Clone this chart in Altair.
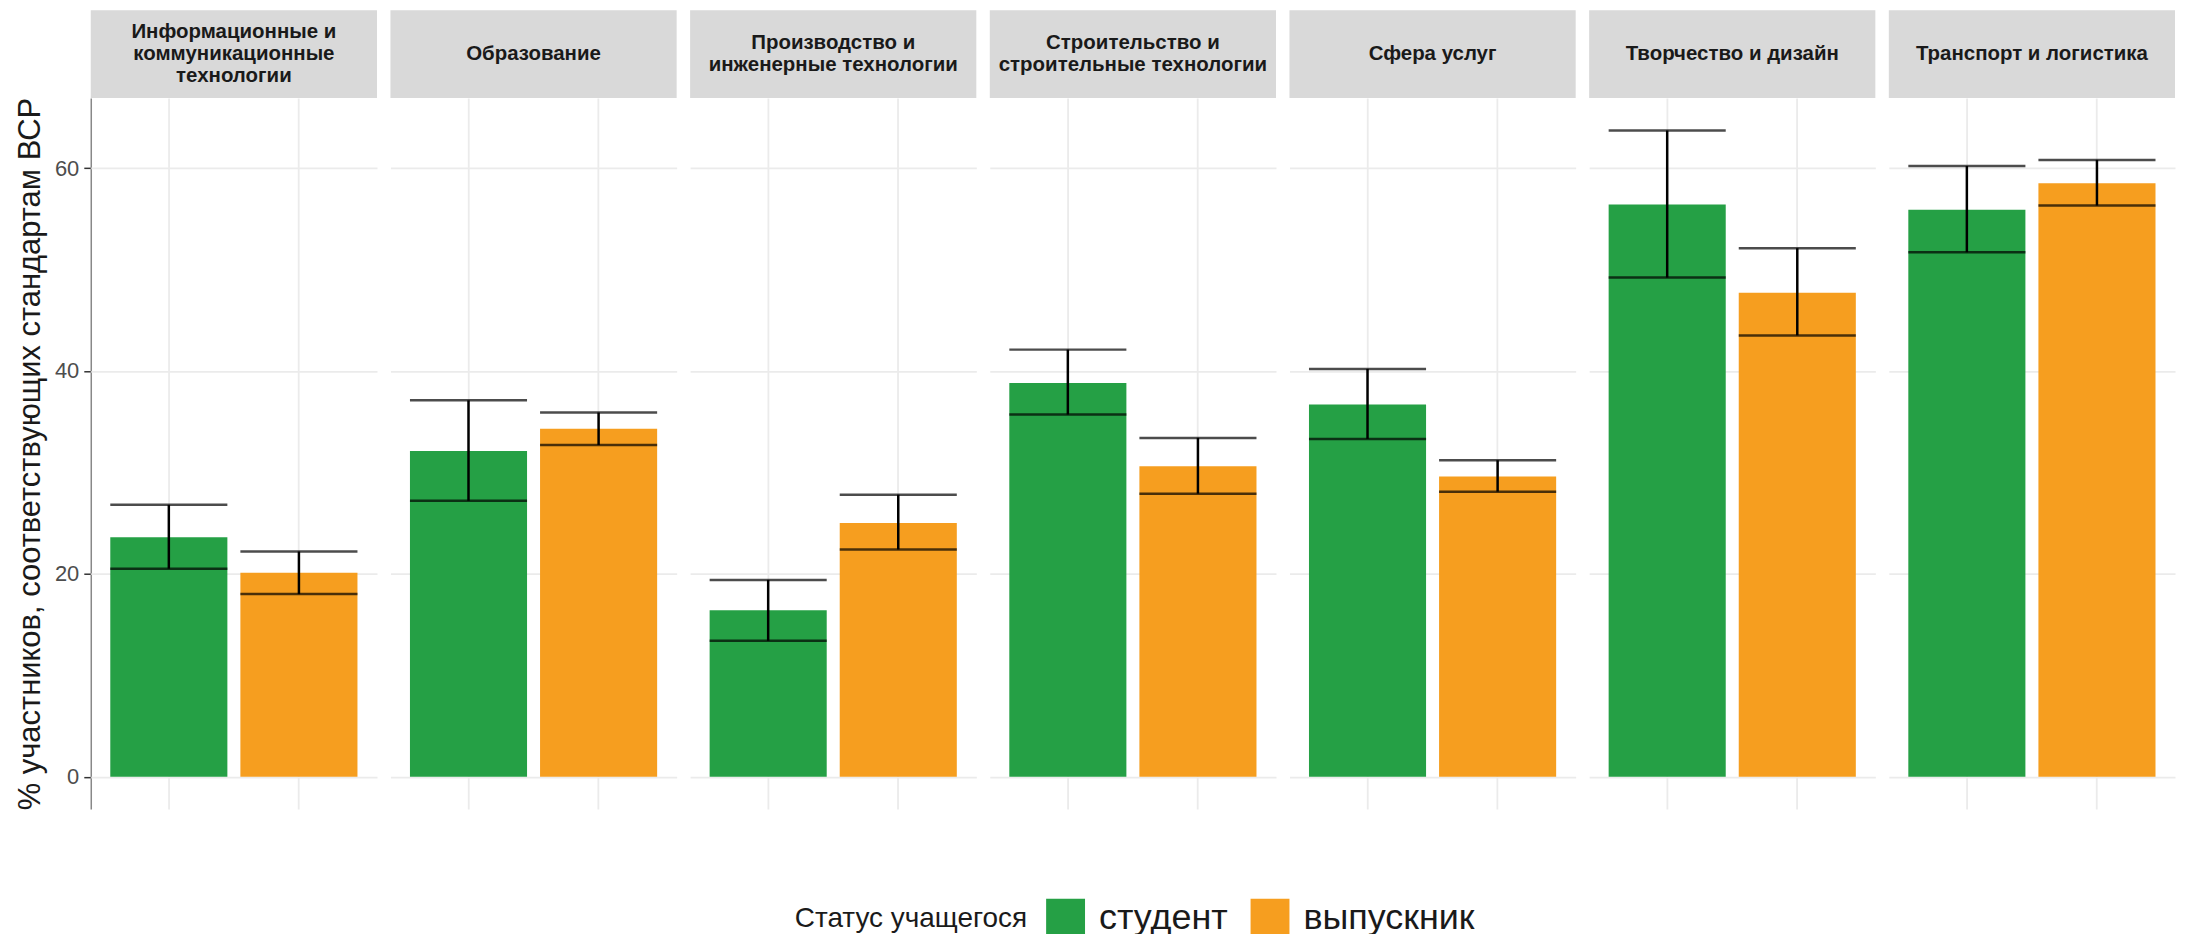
import altair as alt
import pandas as pd

categories = [
    "Информационные и коммуникационные технологии",
    "Образование",
    "Производство и инженерные технологии",
    "Строительство и строительные технологии",
    "Сфера услуг",
    "Творчество и дизайн",
    "Транспорт и логистика",
]
strip_labels = [
    "Информационные и\nкоммуникационные\nтехнологии",
    "Образование",
    "Производство и\nинженерные технологии",
    "Строительство и\nстроительные технологии",
    "Сфера услуг",
    "Творчество и дизайн",
    "Транспорт и логистика",
]
statuses = ["студент", "выпускник"]
colors = ["#25A045", "#F69E1F"]

student_pct = [23.6, 32.1, 16.4, 38.8, 36.7, 56.4, 55.9]
student_lo = [20.5, 27.2, 13.4, 35.7, 33.3, 49.2, 51.7]
student_hi = [26.8, 37.1, 19.4, 42.1, 40.2, 63.7, 60.2]
graduate_pct = [20.1, 34.3, 25.0, 30.6, 29.6, 47.7, 58.5]
graduate_lo = [18.0, 32.7, 22.4, 27.9, 28.1, 43.5, 56.3]
graduate_hi = [22.2, 35.9, 27.8, 33.4, 31.2, 52.1, 60.8]

y_ticks = [0, 20, 40, 60]

rows = []
for i, c in enumerate(categories):
    nl = strip_labels[i].count("\n") + 1
    rows.append(dict(cat=c, label=strip_labels[i], nlines=nl, status=statuses[0],
                     pct=student_pct[i], lo=student_lo[i], hi=student_hi[i]))
    rows.append(dict(cat=c, label=strip_labels[i], nlines=nl, status=statuses[1],
                     pct=graduate_pct[i], lo=graduate_lo[i], hi=graduate_hi[i]))
df = pd.DataFrame(rows)

FONT = "Liberation Sans"
PW = 287
PH = 713
STRIP = 88
LH = 22

x_enc = alt.X(
    "status:N", sort=statuses,
    scale=alt.Scale(paddingInner=0.1, paddingOuter=0.15),
    axis=alt.Axis(labels=False, ticks=False, domain=False, title=None, grid=True,
                  gridColor="#ebebeb", gridWidth=1.8, bandPosition=0.5),
)
y_scale = alt.Scale(domain=[-3.19, 66.9], nice=False, zero=False)
y_axis = alt.Axis(
    values=y_ticks, title="% участников, соответствующих стандартам ВСР",
    titleFontSize=31, titleFont=FONT, titleFontWeight="normal", titleColor="#1a1a1a",
    titlePadding=8, titleLimit=900,
    labelFontSize=22, labelFont=FONT, labelColor="#4d4d4d", labelPadding=5,
    tickColor="#333333", tickSize=7, tickWidth=1.5,
    domainColor="#888888", domainWidth=1.5,
    gridColor="#ebebeb", gridWidth=1.8,
)

base = alt.Chart()

strip_rect = base.transform_filter(alt.datum.status == statuses[0]).mark_rect(
    color="#d9d9d9").encode(
    x=alt.value(0), x2=alt.value(PW), y=alt.value(-STRIP), y2=alt.value(0))

strip_texts = []
for n in (1, 2, 3):
    strip_texts.append(
        base.transform_filter(
            (alt.datum.status == statuses[0]) & (alt.datum.nlines == n)
        ).mark_text(
            font=FONT, fontSize=20.5, fontWeight="bold", color="#1a1a1a", lineBreak="\n",
            lineHeight=LH, align="center", baseline="middle").encode(
            x=alt.value(PW / 2), y=alt.value(-STRIP / 2 - (n - 1) * LH / 2), text="label:N")
    )

bars = base.mark_bar().encode(
    x=x_enc,
    y=alt.Y("pct:Q", scale=y_scale, axis=y_axis),
    y2=alt.datum(0),
    color=alt.Color(
        "status:N", sort=statuses,
        scale=alt.Scale(domain=statuses, range=colors),
        legend=alt.Legend(
            title="Статус учащегося", orient="none", legendX=706, legendY=803,
            direction="horizontal", titleOrient="left",
            titleFontSize=28, titleFont=FONT, titleFontWeight="normal",
            titleColor="#1a1a1a", titlePadding=18, titleLimit=600,
            labelFontSize=36, labelFont=FONT, labelColor="#1a1a1a", labelOffset=14,
            labelLimit=600,
            symbolType="square", symbolSize=1521, symbolStrokeWidth=0,
            symbolOpacity=1, columnPadding=22,
        ),
    ),
)

err = base.mark_rule(color="black", strokeWidth=2.5).encode(
    x=alt.X("status:N", sort=statuses), y=alt.Y("lo:Q"), y2="hi:Q")
tick_hi = base.mark_tick(color="black", thickness=2.5, size=117.4).encode(
    x=alt.X("status:N", sort=statuses), y=alt.Y("hi:Q"))
tick_lo = base.mark_tick(color="black", thickness=2.5, size=117.4).encode(
    x=alt.X("status:N", sort=statuses), y=alt.Y("lo:Q"))

layer = alt.layer(strip_rect, *strip_texts, bars, err, tick_hi, tick_lo, data=df).properties(
    width=PW, height=PH)

chart = layer.facet(
    column=alt.Column("cat:N", sort=categories, header=alt.Header(labels=False, title=None)),
    spacing=13.5,
).properties(
    padding={"left": 6, "top": 1, "right": 5, "bottom": 0}
).configure(font=FONT).configure_view(strokeWidth=0)

chart.save("out.html", embed_options={"renderer": "svg", "actions": False})
